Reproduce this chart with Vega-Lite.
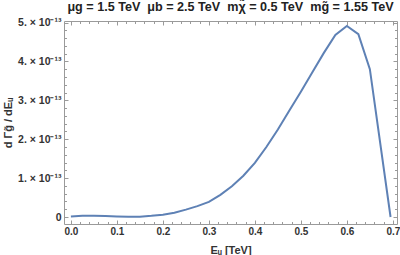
{
  "$schema": "https://vega.github.io/schema/vega-lite/v6.json",
  "autosize": {"type": "none"},
  "width": 333,
  "height": 203,
  "padding": {"left": 64, "top": 21, "right": 3, "bottom": 31},
  "background": "white",
  "config": {
    "view": {"stroke": "#9a9a9a", "strokeWidth": 1},
    "font": "Liberation Sans",
    "axis": {"domain": false, "grid": false, "tickColor": "#9a9a9a", "labelColor": "#333333", "labelFont": "Liberation Sans", "labelFontWeight": "bold", "labelFontSize": 10, "titleFont": "Liberation Sans", "titleFontWeight": "bold", "titleColor": "#333333", "titleFontSize": 11}
  },
  "title": {"text": "μg = 1.5 TeV\u00a0\u00a0μb = 2.5 TeV\u00a0\u00a0mχ̃ = 0.5 TeV\u00a0\u00a0mg̃ = 1.55 TeV", "fontSize": 12.6, "fontWeight": "bold", "font": "Liberation Sans", "color": "#222222", "anchor": "middle", "frame": "group", "offset": 4},
  "data": {"values": [
    {"E": 0.0, "G": 0.01e-13},
    {"E": 0.025, "G": 0.03e-13},
    {"E": 0.05, "G": 0.035e-13},
    {"E": 0.075, "G": 0.025e-13},
    {"E": 0.1, "G": 0.012e-13},
    {"E": 0.125, "G": 0.005e-13},
    {"E": 0.15, "G": 0.008e-13},
    {"E": 0.175, "G": 0.03e-13},
    {"E": 0.2, "G": 0.06e-13},
    {"E": 0.225, "G": 0.11e-13},
    {"E": 0.25, "G": 0.19e-13},
    {"E": 0.275, "G": 0.28e-13},
    {"E": 0.3, "G": 0.39e-13},
    {"E": 0.325, "G": 0.57e-13},
    {"E": 0.35, "G": 0.79e-13},
    {"E": 0.375, "G": 1.06e-13},
    {"E": 0.4, "G": 1.39e-13},
    {"E": 0.425, "G": 1.8e-13},
    {"E": 0.45, "G": 2.25e-13},
    {"E": 0.475, "G": 2.74e-13},
    {"E": 0.5, "G": 3.22e-13},
    {"E": 0.525, "G": 3.72e-13},
    {"E": 0.55, "G": 4.22e-13},
    {"E": 0.575, "G": 4.68e-13},
    {"E": 0.6, "G": 4.91e-13},
    {"E": 0.625, "G": 4.7e-13},
    {"E": 0.65, "G": 3.8e-13},
    {"E": 0.695, "G": 0.0}
  ]},
  "resolve": {"axis": {"x": "independent", "y": "independent"}},
  "layer": [
    {
      "mark": {"type": "line", "color": "#5E81B5", "strokeWidth": 2, "clip": true},
      "encoding": {
        "x": {"field": "E", "type": "quantitative", "scale": {"domain": [-0.015, 0.709], "nice": false, "zero": false},
              "axis": {"orient": "bottom", "values": [0, 0.1, 0.2, 0.3, 0.4, 0.5, 0.6, 0.7], "format": ".1f", "tickSize": -4, "labelPadding": 6, "title": "Eᵤ [TeV]", "titlePadding": 8, "labelFlush": false}},
        "y": {"field": "G", "type": "quantitative", "scale": {"domain": [-0.18e-13, 5.04e-13], "nice": false, "zero": false},
              "axis": {"orient": "left", "values": [0, 1e-13, 2e-13, 3e-13, 4e-13, 5e-13], "labelExpr": "datum.value == 0 ? '0' : format(datum.value * 1e13, '.0f') + '. × 10⁻¹³'", "labelFontSize": 10.5, "tickSize": -4, "labelPadding": 7, "title": "d Γg̃ / dEᵤ", "titlePadding": 4, "labelFlush": false}}
      }
    },
    {
      "mark": {"type": "line", "opacity": 0},
      "encoding": {
        "x": {"field": "E", "type": "quantitative", "axis": {"orient": "bottom", "values": [0.02, 0.04, 0.06, 0.08, 0.12, 0.14, 0.16, 0.18, 0.22, 0.24, 0.26, 0.28, 0.32, 0.34, 0.36, 0.38, 0.42, 0.44, 0.46, 0.48, 0.52, 0.54, 0.56, 0.58, 0.62, 0.64, 0.66, 0.68], "labels": false, "tickSize": -2.5, "title": null}},
        "y": {"field": "G", "type": "quantitative", "axis": {"orient": "left", "values": [0.2e-13, 0.4e-13, 0.6e-13, 0.8e-13, 1.2e-13, 1.4e-13, 1.6e-13, 1.8e-13, 2.2e-13, 2.4e-13, 2.6e-13, 2.8e-13, 3.2e-13, 3.4e-13, 3.6e-13, 3.8e-13, 4.2e-13, 4.4e-13, 4.6e-13, 4.8e-13], "labels": false, "tickSize": -2.5, "title": null}}
      }
    },
    {
      "mark": {"type": "line", "opacity": 0},
      "encoding": {
        "x": {"field": "E", "type": "quantitative", "axis": {"orient": "top", "values": [0, 0.1, 0.2, 0.3, 0.4, 0.5, 0.6, 0.7], "labels": false, "tickSize": -4, "title": null}},
        "y": {"field": "G", "type": "quantitative", "axis": {"orient": "right", "values": [0, 1e-13, 2e-13, 3e-13, 4e-13, 5e-13], "labels": false, "tickSize": -4, "title": null}}
      }
    },
    {
      "mark": {"type": "line", "opacity": 0},
      "encoding": {
        "x": {"field": "E", "type": "quantitative", "axis": {"orient": "top", "values": [0.02, 0.04, 0.06, 0.08, 0.12, 0.14, 0.16, 0.18, 0.22, 0.24, 0.26, 0.28, 0.32, 0.34, 0.36, 0.38, 0.42, 0.44, 0.46, 0.48, 0.52, 0.54, 0.56, 0.58, 0.62, 0.64, 0.66, 0.68], "labels": false, "tickSize": -2.5, "title": null}},
        "y": {"field": "G", "type": "quantitative", "axis": {"orient": "right", "values": [0.2e-13, 0.4e-13, 0.6e-13, 0.8e-13, 1.2e-13, 1.4e-13, 1.6e-13, 1.8e-13, 2.2e-13, 2.4e-13, 2.6e-13, 2.8e-13, 3.2e-13, 3.4e-13, 3.6e-13, 3.8e-13, 4.2e-13, 4.4e-13, 4.6e-13, 4.8e-13], "labels": false, "tickSize": -2.5, "title": null}}
      }
    }
  ]
}
